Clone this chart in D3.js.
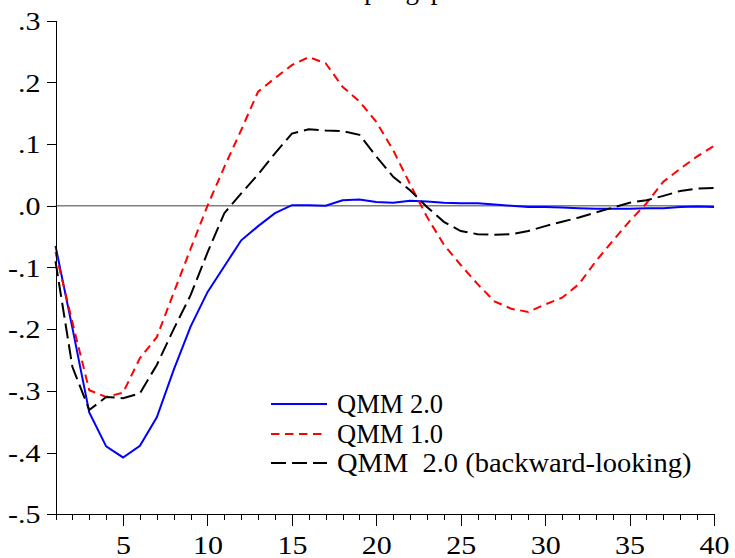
<!DOCTYPE html>
<html><head><meta charset="utf-8">
<script src="https://cdn.jsdelivr.net/npm/d3@7"></script>
<style>
html,body{margin:0;padding:0;background:#fff;}
svg{display:block;}
svg text{font-family:'Liberation Serif','DejaVu Serif',Times,serif !important;fill:#000;}
</style></head>
<body>
<svg id="chart" width="735" height="558"></svg>
<script>
const periods = d3.range(1, 41);
const qmm20 = [-0.065,-0.198,-0.335,-0.390,-0.408,-0.389,-0.343,-0.266,-0.196,-0.140,
  -0.098,-0.056,-0.033,-0.012,0.001,0.001,0.000,0.009,0.010,0.006,
  0.005,0.008,0.007,0.005,0.004,0.004,0.002,0.000,-0.002,-0.002,
  -0.003,-0.004,-0.005,-0.005,-0.005,-0.004,-0.004,-0.002,-0.001,-0.002];
const qmm10 = [-0.075,-0.189,-0.299,-0.310,-0.303,-0.247,-0.213,-0.141,-0.070,0.000,
  0.063,0.123,0.185,0.207,0.228,0.241,0.231,0.193,0.169,0.136,
  0.090,0.035,-0.018,-0.063,-0.096,-0.127,-0.155,-0.167,-0.172,-0.160,
  -0.149,-0.127,-0.090,-0.057,-0.025,0.004,0.039,0.060,0.080,0.097];
const qmm20bl = [-0.090,-0.261,-0.331,-0.310,-0.312,-0.304,-0.258,-0.200,-0.145,-0.076,
  -0.012,0.020,0.051,0.085,0.117,0.124,0.122,0.121,0.115,0.080,
  0.047,0.025,-0.002,-0.026,-0.041,-0.046,-0.047,-0.046,-0.041,-0.033,
  -0.026,-0.019,-0.011,-0.003,0.005,0.009,0.016,0.024,0.028,0.029];
const yTickValues = [0.3,0.2,0.1,0.0,-0.1,-0.2,-0.3,-0.4,-0.5];
const yTickLabels = [".3",".2",".1",".0","-.1","-.2","-.3","-.4","-.5"];
const xMajorTicks = [5,10,15,20,25,30,35,40];
const seriesNames = ["QMM 2.0","QMM 1.0","QMM\u00a0\u00a02.0 (backward-looking)"];
const title = "Output gap";

const FONT = "'Liberation Serif','DejaVu Serif',Times,serif";
const svg = d3.select("#chart");
const x = d3.scaleLinear().domain([1,40]).range([55.5,714]);
const y = d3.scaleLinear().domain([-0.5,0.3]).range([514.2,20.7]);

function stretch(sel, f){
  sel.each(function(){
    const L = this.getComputedTextLength();
    d3.select(this).attr("textLength", L*f).attr("lengthAdjust","spacingAndGlyphs");
  });
}

// title (mostly clipped above the frame, as in the reference)
svg.append("text").attr("x",384).attr("y",-1).attr("text-anchor","middle")
  .attr("font-family",FONT).attr("font-size",27).text(title);

// zero line
svg.append("line").attr("x1",x(1)).attr("x2",x(40)).attr("y1",y(0)).attr("y2",y(0))
  .attr("stroke","#808080").attr("stroke-width",1.6);

const series = [
  {vals:qmm20, color:"#0000ff", dash:null},
  {vals:qmm10, color:"#ff0000", dash:"8.5,5.5"},
  {vals:qmm20bl, color:"#000000", dash:"15,6"}
];
const line = d3.line().x((d,i)=>x(periods[i])).y(d=>y(d));
series.forEach(s=>{
  svg.append("path").attr("d",line(s.vals)).attr("fill","none")
    .attr("stroke",s.color).attr("stroke-width",2)
    .attr("stroke-dasharray",s.dash);
});

// axes
const yAxis = d3.axisLeft(y).tickValues(yTickValues)
  .tickFormat((d,i)=>yTickLabels[i]).tickSize(9).tickSizeOuter(0).tickPadding(6);
const gy = svg.append("g").attr("transform",`translate(${x(1)},0)`).call(yAxis)
  .attr("font-family",FONT).attr("font-size",25);
gy.selectAll("text").attr("dy","0.35em");
stretch(gy.selectAll("text"), 1.2);

const xMinor = d3.axisBottom(x).tickValues(periods).tickFormat("").tickSize(6).tickSizeOuter(0);
svg.append("g").attr("transform",`translate(0,${y(-0.5)})`).call(xMinor);
const xMajor = d3.axisBottom(x).tickValues(xMajorTicks).tickSize(12).tickSizeOuter(0).tickPadding(10);
const gx2 = svg.append("g").attr("transform",`translate(0,${y(-0.5)})`).call(xMajor)
  .attr("font-family",FONT).attr("font-size",25);
gx2.select(".domain").remove();
stretch(gx2.selectAll("text"), 1.2);
svg.selectAll(".domain, .tick line").attr("stroke","#000").attr("shape-rendering","crispEdges");

// legend
const legY = [404,434,463];
const lg = svg.append("g").attr("font-family",FONT).attr("font-size",26.5);
series.forEach((s,i)=>{
  lg.append("line").attr("x1",271).attr("x2",327).attr("y1",legY[i]).attr("y2",legY[i])
    .attr("stroke",s.color).attr("stroke-width",2).attr("stroke-dasharray",s.dash);
  const t = lg.append("text").attr("x",337).attr("y",legY[i]+8.5).text(seriesNames[i]);
  if (i === 2) stretch(t, 1.075);
});
</script>
</body></html>
